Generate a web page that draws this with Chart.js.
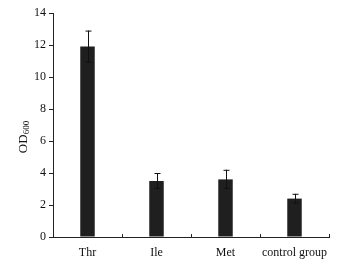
<!DOCTYPE html>
<html>
<head>
<meta charset="utf-8">
<script src="https://cdn.jsdelivr.net/npm/chart.js@4/dist/chart.umd.min.js"></script>
<style>
  html, body { margin: 0; padding: 0; background: #fff; }
  #wrap { width: 346px; height: 259px; }
</style>
</head>
<body>
<div id="wrap"><canvas id="barChart" width="346" height="259"></canvas></div>
<script>
const groups = ['Thr', 'Ile', 'Met', 'control group'];
const odValues = [11.9, 3.5, 3.6, 2.4];
const odErrors = [1.0, 0.5, 0.6, 0.3];
const yTicks = [0, 2, 4, 6, 8, 10, 12, 14];

// error bars with caps, drawn on top of the bars
const errorBars = {
    id: 'errorBars',
    afterDatasetsDraw(chart) {
        const ctx = chart.ctx;
        const y = chart.scales.y;
        const meta = chart.getDatasetMeta(0);
        ctx.save();
        ctx.strokeStyle = '#111';
        ctx.lineWidth = 1;
        meta.data.forEach((bar, i) => {
            const top = y.getPixelForValue(odValues[i] + odErrors[i]);
            const bot = y.getPixelForValue(odValues[i] - odErrors[i]);
            const x = Math.round(bar.x) + 0.5;
            ctx.beginPath();
            ctx.moveTo(x, top);
            ctx.lineTo(x, bot);
            ctx.moveTo(x - 3, top + 0.5);
            ctx.lineTo(x + 3, top + 0.5);
            ctx.moveTo(x - 3, bot - 0.5);
            ctx.lineTo(x + 3, bot - 0.5);
            ctx.stroke();
        });
        ctx.restore();
    }
};

// small inward ticks between categories on the x axis
const innerTicks = {
    id: 'innerTicks',
    afterDraw(chart) {
        const ctx = chart.ctx;
        const x = chart.scales.x;
        const b = chart.chartArea.bottom;
        ctx.save();
        ctx.strokeStyle = '#222';
        ctx.lineWidth = 1;
        for (let i = 1; i <= groups.length; i++) {
            const px = Math.round(x.getPixelForValue(i - 0.5)) + 0.5;
            ctx.beginPath();
            ctx.moveTo(px, b);
            ctx.lineTo(px, b - 3);
            ctx.stroke();
        }
        ctx.restore();
    }
};

// y axis title OD with subscript 600
const odTitle = {
    id: 'odTitle',
    afterDraw(chart) {
        const ctx = chart.ctx;
        ctx.save();
        ctx.translate(24, 137);
        ctx.rotate(-Math.PI / 2);
        ctx.fillStyle = '#111';
        ctx.textBaseline = 'middle';
        ctx.font = '13px "Liberation Serif"';
        const w1 = ctx.measureText('OD').width;
        ctx.font = '9px "Liberation Serif"';
        const w2 = ctx.measureText('600').width;
        const x0 = -(w1 + w2) / 2;
        ctx.font = '13px "Liberation Serif"';
        ctx.fillText('OD', x0, 0);
        ctx.font = '9px "Liberation Serif"';
        ctx.fillText('600', x0 + w1, 3);
        ctx.restore();
    }
};

const ctx = document.getElementById('barChart').getContext('2d');
const bChart = new Chart(ctx, {
    type: 'bar',
    data: {
        labels: groups,
        datasets: [{
            data: odValues,
            backgroundColor: '#1f1f1f',
            borderWidth: 0,
            barPercentage: 0.21,
            categoryPercentage: 1.0
        }]
    },
    options: {
        responsive: false,
        animation: false,
        layout: { padding: { top: 13, right: 17, left: 0, bottom: 0 } },
        plugins: {
            legend: { display: false },
            tooltip: { enabled: false }
        },
        scales: {
            x: {
                offset: true,
                grid: { display: false },
                border: { display: true, color: '#222', width: 1 },
                ticks: {
                    color: '#111',
                    padding: 1,
                    maxRotation: 0,
                    font: { family: 'Liberation Serif', size: 12 }
                },
                afterFit(scale) { scale.height = 22; }
            },
            y: {
                min: 0,
                max: 14,
                afterBuildTicks(scale) { scale.ticks = yTicks.map(v => ({ value: v })); },
                grid: { drawOnChartArea: false, tickLength: 4, color: '#222' },
                border: { display: true, color: '#222', width: 1 },
                ticks: {
                    color: '#111',
                    padding: 3,
                    font: { family: 'Liberation Serif', size: 12 }
                },
                afterFit(scale) { scale.width = 53; }
            }
        }
    },
    plugins: [errorBars, innerTicks, odTitle]
});
</script>
</body>
</html>
